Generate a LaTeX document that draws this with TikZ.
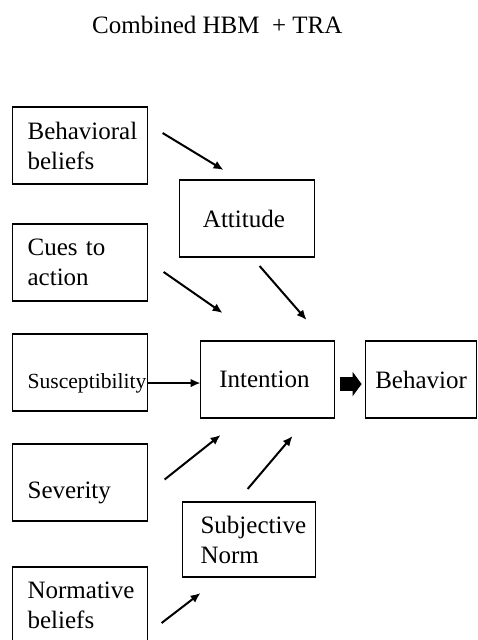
\documentclass[tikz,border=0pt]{standalone}
\usepackage{fontspec}
\setmainfont{Liberation Serif}
\usepackage{tikz}
\usetikzlibrary{arrows.meta}
\usetikzlibrary{positioning}
\hyphenpenalty=10000

\begin{document}
\begin{tikzpicture}[
        node distance=30pt,
        font=\fontsize{18.75}{22.5}\selectfont,
        box/.style={rectangle, draw=black, line width=1.2pt, minimum height=57.75pt, outer sep=0pt},
        factor/.style={box, text width=78.75pt, inner xsep=11.25pt, align=left},
        construct/.style={box, minimum width=100.5pt, align=center},
        lowtext/.style={text height=23.5pt, text depth=0pt},
        link/.style={line width=1.5pt, -{Latex[length=7.5pt, width=6.5pt]}}
      ]

        \useasboundingbox[fill=white] (0,0) rectangle (358.5pt,-480pt);

        \node (heading) at (163pt,-18.75pt) { Combined HBM\ \ + TRA };

        \node (beliefs1) [factor, anchor=north west] at (9.45pt,-80.25pt) { Behavioral\\beliefs };
        \node (cues) [factor, below=of beliefs1] { Cues to\\action };
        \node (suscept) [factor, lowtext, below=24.75pt of cues, font=\fontsize{16.2}{19}\selectfont] { Susceptibility };
        \node (severity) [factor, lowtext, below=24.75pt of suscept] { Severity };
        \node (beliefs2) [factor, below=34.5pt of severity] { Normative\\beliefs };

        \node (intention) [construct, right=39.75pt of suscept, yshift=-5.25pt] { Intention };
        \node (behavior) [box, minimum width=83.25pt, right=23.25pt of intention] { Behavior };
        \node (attitude) [construct, minimum width=101.25pt, above=63pt of intention, xshift=-15.4pt] { Attitude };
        \node (norm) [box, text width=72.75pt, inner xsep=13.5pt, align=left, minimum height=56.25pt, below=63pt of intention, xshift=-13.9pt] { Subjective\\Norm };

        \draw[link] ([shift={(11.25pt,-19.5pt)}]beliefs1.north east) -- ([shift={(33pt,7.5pt)}]attitude.north west);
        \draw[link] ([shift={(12pt,-7.1pt)}]cues.east) -- ([shift={(16.5pt,21pt)}]intention.north west);
        \draw[link] ([shift={(9.4pt,-6.75pt)}]attitude.south) -- ([shift={(29.25pt,15.75pt)}]intention.north);
        \draw[link] ([yshift=-7.9pt]suscept.east) -- ([yshift=-7.9pt]suscept.east -| intention.west);
        \draw[link] ([shift={(12.75pt,2.25pt)}]severity.east) -- ([shift={(15pt,-12.75pt)}]intention.south west);
        \draw[link] ([shift={(-1.1pt,9.75pt)}]norm.north) -- ([shift={(18.75pt,-13.5pt)}]intention.south);
        \draw[link] ([shift={(10.5pt,-42pt)}]beliefs2.north east) -- ([shift={(13.5pt,-12pt)}]norm.south west);

        \draw[line width=10.5pt, -{Triangle[length=6.75pt, width=18pt]}] ([shift={(3.75pt,-3.4pt)}]intention.east) -- ([shift={(-3pt,-3.4pt)}]behavior.west);
      \end{tikzpicture}
\end{document}
